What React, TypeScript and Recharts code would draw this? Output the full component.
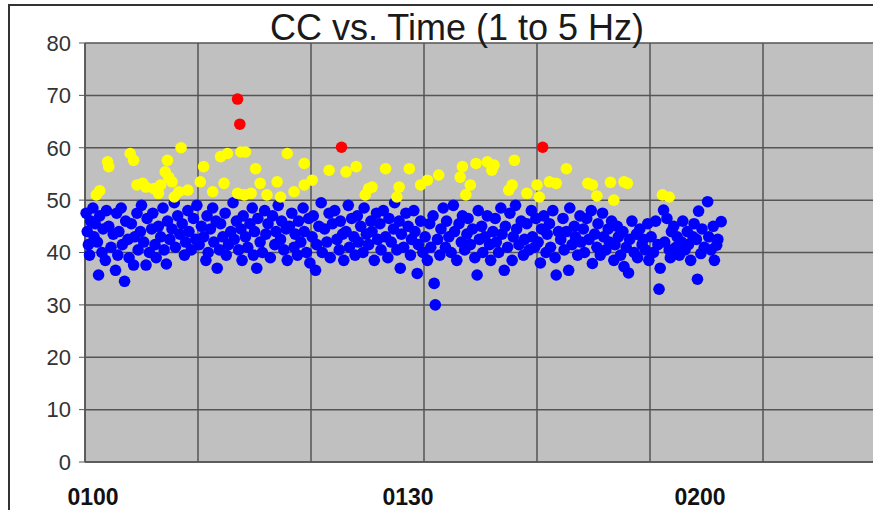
import { ScatterChart, Scatter, XAxis, YAxis, CartesianGrid } from 'recharts'

// minutes after 0100, CC value
const redPoints: [number, number][] = [
  [13.5, 69.3], [13.7, 64.5], [22.7, 60.1], [40.5, 60.1],
]

const yellowPoints: [number, number][] = [
  [1.0, 51.0], [1.3, 51.8], [2.0, 57.3], [2.1, 56.4], [4.0, 58.9], [4.3, 57.6], [4.6, 52.9],
  [5.1, 53.2], [5.4, 52.5], [6.1, 52.2], [6.5, 51.3], [6.7, 52.9], [7.1, 55.4], [7.3, 57.6],
  [7.4, 54.4], [7.7, 53.5], [7.9, 50.6], [8.3, 51.6], [8.5, 60.0], [9.1, 51.9], [10.2, 53.5],
  [10.5, 56.4], [11.3, 51.6], [12.0, 58.3], [12.3, 53.2], [12.6, 58.9], [13.5, 51.3], [13.8, 59.2],
  [14.1, 51.0], [14.2, 59.2], [14.7, 51.3], [15.1, 56.0], [15.5, 53.2], [16.1, 51.0], [17.0, 53.5],
  [17.3, 50.6], [17.9, 58.9], [18.5, 51.6], [19.4, 57.0], [19.4, 52.9], [20.1, 53.8], [21.6, 55.7],
  [23.1, 55.4], [24.0, 56.4], [24.8, 51.0], [25.1, 52.2], [25.4, 52.5], [26.6, 56.0], [27.6, 50.6],
  [27.8, 52.5], [28.7, 56.0], [29.7, 52.9], [30.3, 53.8], [31.3, 54.8], [33.2, 54.4], [33.4, 56.4],
  [33.7, 51.0], [34.1, 52.9], [34.6, 57.0], [35.6, 57.3], [36.0, 55.7], [36.2, 56.7], [37.5, 51.9],
  [37.8, 52.9], [38.0, 57.6], [39.1, 51.3], [40.0, 52.9], [40.2, 50.6], [41.1, 53.5], [41.7, 53.2],
  [42.6, 56.0], [44.5, 53.2], [44.9, 52.9], [45.3, 50.8], [46.5, 53.4], [46.8, 50.0], [47.7, 53.5],
  [48.0, 53.2], [51.1, 51.0], [51.7, 50.6],
]

const bluePoints: [number, number][] = [
  [0.1, 47.5], [0.2, 44.0], [0.3, 41.5], [0.4, 39.5], [0.5, 46.0], [0.7, 48.5], [0.8, 43.0], [0.9, 45.5],
  [1.1, 42.0], [1.2, 35.7], [1.3, 47.0], [1.5, 40.0], [1.6, 44.5], [1.8, 38.5], [1.9, 48.0],
  [2.1, 45.0], [2.3, 41.0], [2.5, 43.5], [2.7, 36.6], [2.8, 47.5], [2.9, 39.5],
  [3.0, 44.0], [3.2, 48.5], [3.3, 41.5], [3.5, 34.5], [3.6, 46.0], [3.8, 42.5], [3.9, 39.0],
  [4.1, 45.5], [4.3, 37.6], [4.4, 43.0], [4.6, 47.5], [4.7, 40.5], [4.9, 44.0],
  [5.0, 49.0], [5.2, 42.0], [5.4, 37.6], [5.5, 46.5], [5.7, 40.0], [5.9, 44.5],
  [6.0, 47.5], [6.2, 41.5], [6.3, 39.0], [6.5, 45.0], [6.7, 43.0], [6.9, 48.5],
  [7.0, 40.5], [7.2, 37.8], [7.3, 46.0], [7.5, 42.5], [7.7, 44.5], [7.9, 49.5],
  [8.0, 41.0], [8.2, 47.0], [8.4, 43.5], [8.6, 45.5], [8.8, 39.5], [8.9, 42.0],
  [9.1, 48.0], [9.2, 44.0], [9.4, 40.5], [9.6, 46.5], [9.8, 42.5], [9.9, 49.0],
  [10.1, 41.5], [10.3, 45.0], [10.5, 43.0], [10.7, 38.5], [10.8, 47.0], [10.9, 40.0],
  [11.1, 44.5], [11.3, 48.5], [11.4, 42.0], [11.6, 46.0], [11.7, 37.0], [11.9, 40.5],
  [12.0, 45.5], [12.2, 43.0], [12.4, 47.5], [12.5, 39.5], [12.7, 41.5], [12.9, 44.0],
  [13.1, 49.5], [13.2, 42.5], [13.4, 46.0], [13.6, 40.5], [13.8, 44.5], [13.9, 38.5],
  [14.0, 47.0], [14.2, 43.0], [14.4, 41.0], [14.6, 45.5], [14.8, 48.5], [14.9, 39.5],
  [15.0, 44.0], [15.2, 37.0], [15.3, 46.5], [15.5, 42.0], [15.7, 40.0], [15.9, 48.0],
  [16.0, 43.5], [16.2, 45.5], [16.4, 39.0], [16.6, 47.0], [16.8, 41.5], [16.9, 44.0],
  [17.1, 49.0], [17.3, 42.5], [17.4, 46.0], [17.6, 40.5], [17.8, 44.5], [17.9, 38.5],
  [18.1, 45.0], [18.3, 47.5], [18.5, 41.0], [18.6, 43.5], [18.8, 39.5], [18.9, 46.0],
  [19.1, 42.0], [19.3, 48.5], [19.4, 44.0], [19.6, 40.0], [19.8, 46.5], [19.9, 38.0],
  [20.1, 43.0], [20.2, 47.0], [20.4, 36.6], [20.5, 41.5], [20.7, 45.0], [20.9, 49.5],
  [21.0, 40.0], [21.2, 44.5], [21.4, 42.0], [21.6, 47.5], [21.7, 39.0], [21.9, 45.5],
  [22.1, 48.0], [22.3, 42.5], [22.5, 40.5], [22.6, 46.0], [22.8, 43.5], [22.9, 38.5],
  [23.1, 44.0], [23.3, 49.0], [23.4, 41.0], [23.6, 46.5], [23.8, 43.0], [23.9, 39.5],
  [24.1, 47.0], [24.2, 42.0], [24.4, 45.0], [24.6, 40.0], [24.7, 48.5], [24.9, 43.5],
  [25.1, 41.5], [25.3, 46.0], [25.4, 44.0], [25.6, 38.5], [25.8, 47.5], [25.9, 42.5],
  [26.1, 45.5], [26.2, 40.5], [26.4, 48.0], [26.6, 43.0], [26.8, 39.0], [26.9, 46.5],
  [27.1, 42.0], [27.3, 44.5], [27.4, 49.5], [27.6, 40.5], [27.8, 46.0], [27.9, 37.0],
  [28.0, 43.5], [28.2, 41.0], [28.4, 47.5], [28.6, 45.0], [28.8, 39.5], [28.9, 42.5],
  [29.1, 48.0], [29.2, 44.0], [29.4, 36.0], [29.5, 41.5], [29.7, 46.0], [29.9, 40.0],
  [30.1, 43.0], [30.3, 38.5], [30.5, 45.5], [30.6, 41.0], [30.8, 47.0], [30.9, 34.1], [31.0, 30.0],
  [31.2, 42.5], [31.4, 39.5], [31.5, 44.5], [31.7, 48.5], [31.9, 41.0],
  [32.0, 46.0], [32.2, 43.0], [32.4, 40.0], [32.6, 49.0], [32.7, 44.0], [32.9, 38.5],
  [33.1, 45.5], [33.3, 42.0], [33.4, 47.0], [33.6, 40.5], [33.8, 43.5], [33.9, 46.5],
  [34.1, 41.5], [34.3, 44.5], [34.5, 39.0], [34.7, 35.7], [34.8, 48.0], [34.9, 42.5],
  [35.1, 45.0], [35.2, 40.0], [35.4, 43.0], [35.6, 47.0], [35.8, 41.5], [35.9, 38.5],
  [36.1, 44.0], [36.3, 46.5], [36.4, 42.0], [36.6, 40.0], [36.8, 48.5], [36.9, 43.5],
  [37.1, 36.6], [37.2, 45.0], [37.4, 41.0], [37.6, 47.5], [37.8, 38.5], [37.9, 43.0],
  [38.1, 49.0], [38.2, 44.5], [38.4, 41.5], [38.6, 46.0], [38.8, 39.5], [38.9, 42.5],
  [39.1, 45.5], [39.3, 40.5], [39.5, 48.0], [39.6, 43.0], [39.8, 41.0], [39.9, 46.5],
  [40.1, 42.0], [40.3, 38.0], [40.4, 44.5], [40.6, 47.0], [40.8, 40.0], [40.9, 43.5],
  [41.1, 45.5], [41.2, 41.0], [41.4, 48.0], [41.6, 39.0], [41.7, 35.7], [41.9, 44.0],
  [42.1, 42.5], [42.3, 46.5], [42.4, 40.5], [42.6, 44.0], [42.8, 36.6], [42.9, 48.5],
  [43.1, 41.5], [43.3, 45.0], [43.4, 43.0], [43.6, 39.5], [43.8, 47.0], [43.9, 42.0],
  [44.1, 44.5], [44.2, 40.0], [44.4, 46.5], [44.6, 42.5], [44.8, 48.0], [44.9, 37.9],
  [45.1, 43.5], [45.3, 41.0], [45.4, 45.5], [45.6, 39.5], [45.8, 47.5], [45.9, 43.0],
  [46.1, 40.5], [46.3, 44.5], [46.4, 42.0], [46.6, 46.0], [46.8, 38.5], [46.9, 41.5],
  [47.1, 45.0], [47.2, 43.0], [47.4, 39.5], [47.6, 44.0], [47.7, 37.3], [47.9, 41.0],
  [48.1, 36.1], [48.2, 42.5], [48.4, 46.0], [48.6, 40.0], [48.8, 43.5], [48.9, 39.0],
  [49.1, 44.5], [49.3, 41.5], [49.4, 42.5], [49.6, 40.5], [49.8, 45.5], [49.9, 38.5],
  [50.1, 43.0], [50.3, 40.0], [50.5, 46.0], [50.7, 41.5], [50.8, 33.0], [50.9, 37.0],
  [51.2, 48.1], [51.3, 42.0], [51.5, 46.5], [51.7, 40.5], [51.8, 39.0], [51.9, 44.0],
  [52.1, 45.0], [52.3, 41.0], [52.4, 43.0], [52.6, 39.5], [52.8, 42.0], [52.9, 46.0],
  [53.1, 40.5], [53.3, 44.0], [53.4, 41.5], [53.6, 38.5], [53.8, 43.0], [53.9, 45.5],
  [54.1, 42.5], [54.2, 34.9], [54.3, 47.9], [54.5, 39.8], [54.6, 44.5], [54.8, 41.0],
  [55.1, 49.7], [55.2, 43.0], [55.4, 40.5], [55.6, 45.0], [55.7, 38.5], [55.9, 41.4], [56.0, 42.5], [56.3, 45.9],
]

const yTicks = [0, 10, 20, 30, 40, 50, 60, 70, 80]
const xTicks = [0, 10, 20, 30, 40, 50, 60, 70]
const xTickLabels: Record<number, string> = { 0: '0100', 30: '0130', 60: '0200' }

// the time labels in the original sit a little off their gridlines
const xLabelShift: Record<number, number> = { 0: 8, 30: -16, 60: -63 }

const FONT = '"Liberation Sans", Arial, sans-serif'

const toRows = (pts: [number, number][]) => pts.map(([t, cc]) => ({ t, cc }))

const dot = (color: string) => (props: any) => (
  <circle cx={props.cx} cy={props.cy} r={5.8} fill={color} />
)

function TimeTick(props: any) {
  const { x, y, payload } = props
  const label = xTickLabels[payload.value]
  if (!label) return <g />
  return (
    <text
      x={x + (xLabelShift[payload.value] ?? 0)}
      y={y + 43}
      textAnchor="middle"
      fontFamily={FONT}
      fontSize={23}
      fontWeight="bold"
      fill="#111"
    >
      {label}
    </text>
  )
}

export default function App() {
  return (
    <div
      style={{
        position: 'absolute',
        left: 0,
        top: 0,
        width: 873,
        height: 510,
        overflow: 'hidden',
        background: '#fff',
        fontFamily: FONT,
      }}
    >
      <ScatterChart width={900} height={510} margin={{ top: 43, right: 24, bottom: 0, left: 0 }}>
        <CartesianGrid fill="#c0c0c0" fillOpacity={1} stroke="#555" strokeWidth={1.5} />
        <XAxis
          type="number"
          dataKey="t"
          domain={[0, 70]}
          ticks={xTicks}
          interval={0}
          height={48}
          tickLine={false}
          tickSize={0}
          tickMargin={0}
          axisLine={{ stroke: '#555', strokeWidth: 1.5 }}
          tick={<TimeTick />}
        />
        <YAxis
          type="number"
          dataKey="cc"
          domain={[0, 80]}
          ticks={yTicks}
          interval={0}
          width={85}
          tickSize={6}
          tickMargin={8}
          tickLine={{ stroke: '#555' }}
          axisLine={{ stroke: '#555', strokeWidth: 1.5 }}
          tick={{ fill: '#333', fontSize: 22, fontFamily: FONT }}
        />
        <Scatter data={toRows(bluePoints)} shape={dot('#0000ff')} isAnimationActive={false} />
        <Scatter data={toRows(yellowPoints)} shape={dot('#ffff00')} isAnimationActive={false} />
        <Scatter data={toRows(redPoints)} shape={dot('#ff0000')} isAnimationActive={false} />
      </ScatterChart>
      <div
        style={{
          position: 'absolute',
          left: 8,
          top: 4,
          width: 900,
          height: 600,
          borderTop: '2px solid #333',
          borderLeft: '2px solid #333',
          pointerEvents: 'none',
        }}
      />
      <svg
        width={873}
        height={510}
        style={{ position: 'absolute', left: 0, top: 0, pointerEvents: 'none' }}
      >
        <text x={457} y={40} textAnchor="middle" fontFamily={FONT} fontSize={36} fill="#1a1a1a">
          CC vs. Time (1 to 5 Hz)
        </text>
      </svg>
    </div>
  )
}
